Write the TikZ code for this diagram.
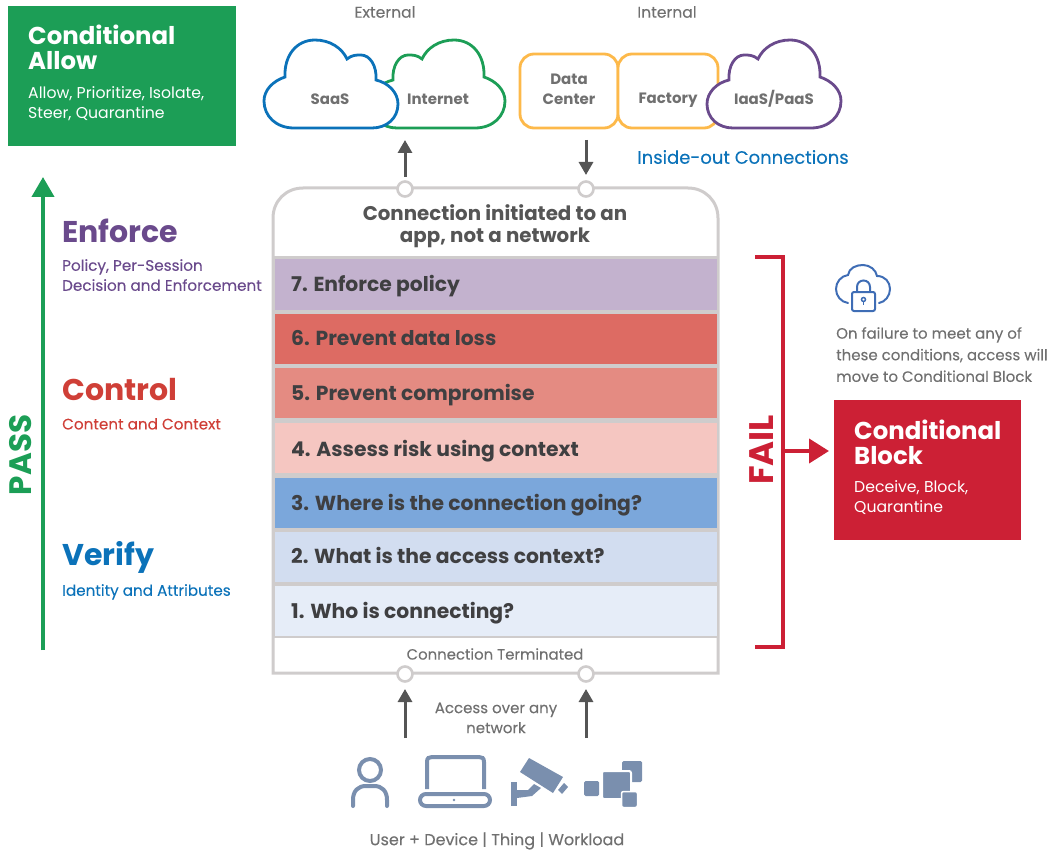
\documentclass[tikz,border=0pt]{standalone}
\usepackage{fontspec}
\setmainfont{Poppins}
\newfontfamily\medf[FakeBold=0.18]{Poppins}
\usetikzlibrary{arrows.meta}
\definecolor{cgreen}{HTML}{1C9E56}
\definecolor{cred}{HTML}{CC2035}
\definecolor{cblue}{HTML}{0B72B9}
\definecolor{cpurple}{HTML}{6A4A8C}
\definecolor{corange}{HTML}{FDB94A}
\definecolor{cctl}{HTML}{CF3F37}
\definecolor{cline}{HTML}{CFCCCC}
\definecolor{cdark}{HTML}{555555}
\definecolor{cbartext}{HTML}{3F3F41}
\definecolor{cgray}{HTML}{707070}
\definecolor{cicon}{HTML}{7A8FAE}
\definecolor{clock}{HTML}{3F6DB5}
\tikzset{
  x=1pt,y=-1pt,
  pics/cloudshape/.style={code={
    \draw[line width=2.8pt,draw=#1,fill=white]
      (30,0) .. controls (12,0) and (0,-12) .. (0,-27)
      .. controls (0,-38) and (9,-47) .. (21,-51)
      .. controls (20,-72) and (32,-88) .. (51,-88)
      .. controls (66,-88) and (78,-80) .. (83,-69)
      .. controls (88,-73) and (92,-73) .. (97,-73)
      .. controls (106,-73) and (113,-62) .. (112,-48)
      .. controls (125,-45) and (134,-35) .. (134,-24)
      .. controls (134,-10) and (123,0) .. (108,0) -- cycle;
  }},
  sitebox/.style={draw=corange,line width=2.8pt,fill=white,rounded corners=14pt},
  lbl/.style={text=cgray,font=\bfseries\fontsize{15}{20}\selectfont,align=center,inner sep=0pt},
  small/.style={text=cgray,font=\medf\fontsize{15}{20}\selectfont,align=center,inner sep=0pt},
  barbox/.style={draw=none,minimum width=442pt,inner sep=0pt,anchor=north west},
  bartext/.style={text=cbartext,font=\bfseries\fontsize{20.3}{24}\selectfont,anchor=base west,inner sep=0pt},
  port/.style={circle,draw=cline,line width=2.6pt,fill=white,minimum size=15pt,inner sep=0pt},
  flow/.style={-{Triangle[width=14pt,length=13pt]},draw=cdark,line width=3pt},
  head/.style={font=\bfseries\fontsize{30}{30}\selectfont,anchor=base west,inner sep=0pt},
  sub/.style={font=\medf\fontsize{15.2}{20}\selectfont,anchor=north west,align=left,inner sep=0pt},
  boxhead/.style={text=white,font=\bfseries\fontsize{24.4}{25}\selectfont,anchor=north west,align=left,inner sep=0pt},
  boxsub/.style={text=white,font=\fontsize{15.7}{20}\selectfont,anchor=north west,align=left,inner sep=0pt},
  iconline/.style={draw=cicon,line width=4pt,line cap=round},
}
\begin{document}
\begin{tikzpicture}
\useasboundingbox (0,0) rectangle (1058,853);
% Conditional Allow
\fill[cgreen] (8,6) rectangle (236,146);
\node[boxhead] (allowh) at (28,25) {Conditional\\Allow};
\node[boxsub] (allows) at (28,86) {Allow, Prioritize, Isolate,\\Steer, Quarantine};
% clouds
\node[small,font=\medf\fontsize{15.6}{20}\selectfont] (ext) at (385,12) {External};
\node[small,font=\medf\fontsize{15.6}{20}\selectfont] (int) at (667,12) {Internal};
\pic[xscale=-1] at (505,128) {cloudshape=cgreen};
\pic at (264,128) {cloudshape=cblue};
\node[sitebox,minimum width=98pt,minimum height=74pt] (dc) at (569,91) {};
\node[sitebox,minimum width=100pt,minimum height=74pt] (fac) at (668,91) {};
\pic[xscale=-1] at (841,128) {cloudshape=cpurple};
\node[lbl] (saas) at (330,99) {SaaS};
\node[lbl] (inet) at (438,99) {Internet};
\node[lbl] (dct) at (569,89) {Data\\Center};
\node[lbl] (fact) at (668,100) {Factory};
\node[lbl] (iaas) at (774,99) {IaaS/PaaS};
\node[text=cblue,font=\medf\fontsize{18}{22}\selectfont,inner sep=0pt] (inside) at (743,157) {Inside-out Connections};
% main box
\draw[draw=cline,line width=3pt,fill=white] (273,673) -- (273,218) .. controls (273,201) and (286,188) .. (303,188) -- (688,188) .. controls (705,188) and (718,201) .. (718,218) -- (718,673) -- cycle;
\fill[cline] (273,256) rectangle (718,638);
\foreach \yy/\hh/\cc/\bb/\tt in {
  259/51/C3B2CE/291/7. Enforce policy,
  314/50/DD6B63/345/6. Prevent data loss,
  368/50/E48B82/400/5. Prevent compromise,
  423/50/F5C6C1/456/4. Assess risk using context,
  478/50/7BA7DB/510/3. Where is the connection going?,
  532/50/D2DDF0/563/2. What is the access context?,
  586/50/E6EDF8/618/1. Who is connecting?}{
  \definecolor{barc}{HTML}{\cc}
  \node[barbox,fill=barc,minimum height=\hh pt] at (275,\yy) {};
  \node[bartext] at (291,\bb) {\tt};
}
\node[text=cdark,font=\bfseries\fontsize{19.8}{22}\selectfont,align=center,inner sep=0pt] (top) at (495,226) {Connection initiated to an\\app, not a network};
\node[small,font=\medf\fontsize{14.9}{18}\selectfont] (term) at (495,654) {Connection Terminated};
% ports and arrows
\node[port] (p1) at (405,189) {};
\node[port] (p2) at (586,189) {};
\node[port] (p3) at (405,674) {};
\node[port] (p4) at (586,674) {};
\coordinate (a1) at (405,140);
\coordinate (a2) at (586,140);
\coordinate (a3) at (405,738);
\coordinate (a4) at (586,738);
\draw[flow,shorten <=12pt] (p1.center) -- (a1);
\draw[flow,shorten >=14pt] (a2) -- (p2.center);
\draw[flow,shorten >=15pt] (a3) -- (p3.center);
\draw[flow,shorten >=15pt] (a4) -- (p4.center);
\node[small] (access) at (496,718) {Access over any\\network};
\node[small,font=\medf\fontsize{16}{20}\selectfont] (devices) at (497,841) {User + Device | Thing | Workload};
% left labels
\node[head,text=cpurple] (enf) at (62,243) {Enforce};
\node[sub,text=cpurple] (enfs) at (62,259) {Policy, Per-Session\\Decision and Enforcement};
\node[head,text=cctl] (ctl) at (62,400) {Control};
\node[sub,text=cctl] (ctls) at (62,418) {Content and Context};
\node[head,text=cblue] (ver) at (62,565) {Verify};
\node[sub,text=cblue] (vers) at (62,584) {Identity and Attributes};
% pass
\coordinate (pb) at (43,650);
\coordinate (pt) at (43,177);
\draw[cgreen,line width=4pt,-{Triangle[width=22pt,length=20pt]}] (pb) -- (pt);
\node[text=cgreen,font=\bfseries\fontsize{31}{31}\selectfont,rotate=90,inner sep=0pt] (pass) at (21,455) {PASS};
% fail
\coordinate (f0) at (755,257);
\coordinate (f1) at (783,257);
\coordinate (f2) at (783,647);
\coordinate (f3) at (755,647);
\coordinate (fm) at (783,451);
\draw[cred,line width=4pt] (f0) -- (f1) -- (f2) -- (f3);
\node[text=cred,font=\bfseries\fontsize{34}{34}\selectfont,rotate=90,inner sep=0pt] (fail) at (762,450) {FAIL};
\fill[cred] (834,400) rectangle (1021,540);
\coordinate (blk) at (829,451);
\draw[cred,line width=4pt,-{Triangle[width=24pt,length=20pt]}] (fm) -- (blk);
\node[boxhead] (blockh) at (854,420) {Conditional\\Block};
\node[boxsub] (blocks) at (854,480) {Deceive, Block,\\Quarantine};
% lock cloud
\draw[clock,line width=2pt,line cap=round] (848,303) .. controls (841,302) and (836,296) .. (836,289) .. controls (836,282) and (841,276) .. (848,275) .. controls (849,268) and (856,265) .. (863,265) .. controls (870,265) and (876,270) .. (877,276) .. controls (885,276) and (890,282) .. (890,289) .. controls (890,296) and (885,302) .. (879,303);
\draw[clock,line width=2pt,rounded corners=2pt] (852,292) rectangle (875,311);
\draw[clock,line width=2pt] (857,292) -- (857,287) .. controls (857,283) and (860,280.5) .. (863.5,280.5) .. controls (867,280.5) and (870,283) .. (870,287) -- (870,292);
\draw[clock,line width=1.5pt] (863.5,299.5) circle[radius=2pt];
\draw[clock,line width=1.5pt] (863.5,301.5) -- (863.5,305);
\node[small,align=left,anchor=north west,font=\medf\fontsize{15}{21.6}\selectfont] (failtxt) at (836,327) {On failure to meet any of\\these conditions, access will\\move to Conditional Block};
% icons
\draw[iconline] (370,770) circle[radius=11pt];
\draw[iconline] (353,806) -- (353,800) .. controls (353,791) and (358,786) .. (366,786) -- (374,786) .. controls (382,786) and (387,791) .. (387,800) -- (387,806);
\draw[iconline,line cap=butt] (427,789) -- (427,762) .. controls (427,758) and (429,757) .. (432,757) -- (479,757) .. controls (482,757) and (484,758) .. (484,762) -- (484,789);
\draw[draw=cicon,line width=4pt,rounded corners=6pt] (420,794) rectangle (490,806);
\fill[cicon] (454,800) circle[radius=1.3pt];
\fill[cicon] (520,772) -- (529,758) -- (563,777) -- (553,793) -- cycle;
\fill[cicon] (558,790) -- (564,783) -- (568,787) -- (562,794) -- cycle;
\fill[cicon] (511,782) rectangle (517,806);
\fill[cicon] (517,790) -- (528,790) -- (534,784) -- (541,788) -- (532,796) -- (517,798) -- cycle;
\fill[cicon,rounded corners=1.5pt] (622,761) rectangle (642,782);
\fill[cicon,rounded corners=1.5pt] (584,781) rectangle (599,796);
\filldraw[fill=cicon,draw=white,line width=2pt,rounded corners=2pt] (602,771) rectangle (631,799);
\filldraw[fill=cicon,draw=white,line width=1.5pt,rounded corners=2pt] (621.5,791.5) rectangle (637.5,807.5);
\end{tikzpicture}
\end{document}
